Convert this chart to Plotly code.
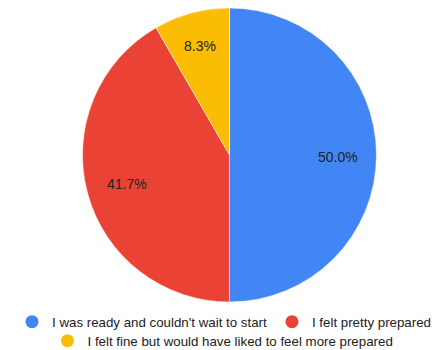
import math
import plotly.graph_objects as go

labels = ["I was ready and couldn't wait to start", "I felt pretty prepared",
          "I felt fine but would have liked to feel more prepared"]
values = [6, 5, 1]
colors = ["#4285F4", "#EA4335", "#FBBC04"]

W, H = 436, 350
CX, CY, R = 229.5, 155.0, 147.0
label_radius = [0.735, 0.72, 0.78]

fig = go.Figure()
fig.add_trace(go.Pie(
    labels=labels, values=values, sort=False, direction="clockwise", rotation=0,
    marker=dict(colors=colors, line=dict(color="white", width=0.5)),
    textinfo="none", showlegend=False, hoverinfo="label+percent",
    domain=dict(x=[(CX - R) / W, (CX + R) / W], y=[1 - (CY + R) / H, 1 - (CY - R) / H]),
))

# percent labels placed at slice mid-angles
total = sum(values)
cum = 0
for v, lr in zip(values, label_radius):
    mid = (cum + v / 2) / total * 2 * math.pi
    cum += v
    px = CX + lr * R * math.sin(mid)
    py = CY - lr * R * math.cos(mid)
    fig.add_annotation(x=px / W, y=1 - py / H, xref="paper", yref="paper",
                       text=f"{v / total * 100:.1f}%", showarrow=False,
                       xanchor="center", yanchor="middle", yshift=-2,
                       font=dict(family="Liberation Sans, Arial", size=14, color="#222222"))

legs = ["legend", "legend", "legend2"]
for lab, col, lg in zip(labels, colors, legs):
    fig.add_trace(go.Scatter(x=[None], y=[None], mode="markers", name=lab,
                             marker=dict(color=col, size=13, symbol="circle"),
                             legend=lg, showlegend=True))
fig.update_layout(
    width=W, height=H, margin=dict(l=0, r=0, t=0, b=0, autoexpand=False),
    paper_bgcolor="white", plot_bgcolor="white",
    xaxis=dict(visible=False), yaxis=dict(visible=False),
    font=dict(family="Liberation Sans, Arial", size=13.3, color="#222222"),
    legend=dict(orientation="h", x=0.5 + 6 / W, xanchor="center", y=1 - 322 / H, yanchor="middle",
                font=dict(size=13.3), itemwidth=30, bgcolor="rgba(0,0,0,0)"),
    legend2=dict(orientation="h", x=0.5 + 5 / W, xanchor="center", y=1 - 341 / H, yanchor="middle",
                 font=dict(size=13.3), itemwidth=30, bgcolor="rgba(0,0,0,0)"),
)
fig.write_html("out.html", config={"displayModeBar": False},
               post_script="document.body.style.margin='0';")
